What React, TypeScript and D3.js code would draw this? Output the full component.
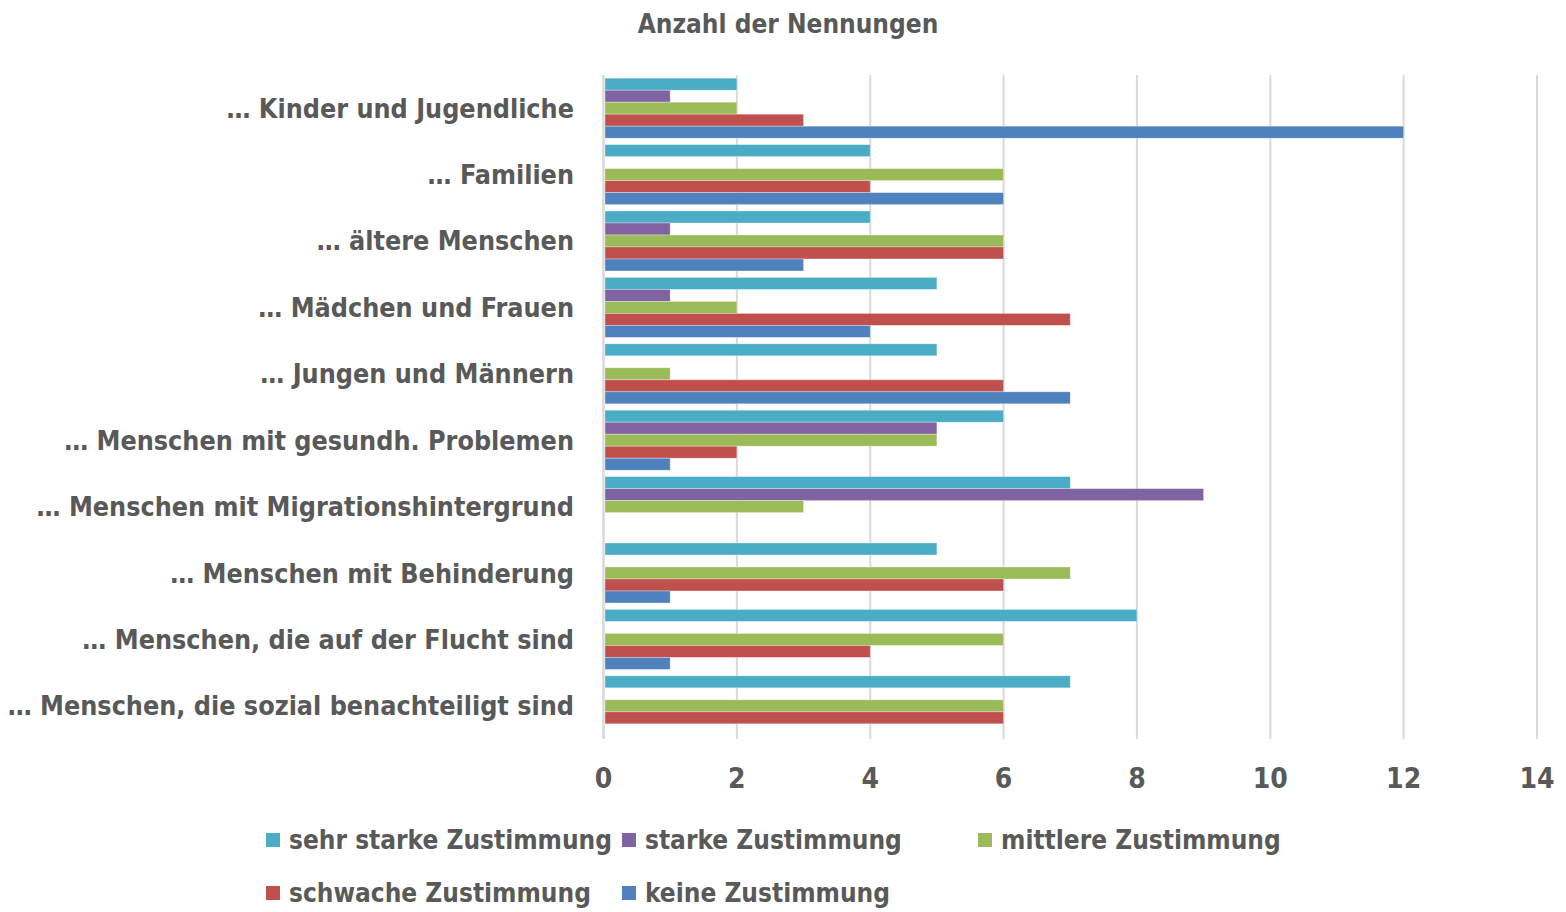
import React from "react";
import * as d3 from "d3";

const categories = [
  "… Kinder und Jugendliche",
  "… Familien",
  "… ältere Menschen",
  "… Mädchen und Frauen",
  "… Jungen und Männern",
  "… Menschen mit gesundh. Problemen",
  "… Menschen mit Migrationshintergrund",
  "… Menschen mit Behinderung",
  "… Menschen, die auf der Flucht sind",
  "… Menschen, die sozial benachteiligt sind",
];

const seriesNames = [
  "sehr starke Zustimmung",
  "starke Zustimmung",
  "mittlere Zustimmung",
  "schwache Zustimmung",
  "keine Zustimmung",
];
const seriesColors = ["#4BACC6", "#8064A2", "#9BBB59", "#C0504D", "#4F81BD"];

const sehrStark = [2, 4, 4, 5, 5, 6, 7, 5, 8, 7];
const stark = [1, 0, 1, 1, 0, 5, 9, 0, 0, 0];
const mittel = [2, 6, 6, 2, 1, 5, 3, 7, 6, 6];
const schwach = [3, 4, 6, 7, 6, 2, 0, 6, 4, 6];
const keine = [12, 6, 3, 4, 7, 1, 0, 1, 1, 0];
const seriesValues = [sehrStark, stark, mittel, schwach, keine];

const xTicks = [0, 2, 4, 6, 8, 10, 12, 14];

const FONT = "'Liberation Sans Narrow', 'DejaVu Sans Condensed', sans-serif";
const TEXT = "#595959";

export default function App() {
  const W = 1566, H = 912;
  const x = d3.scaleLinear().domain([0, 14]).range([603.5, 1537]);
  const y = d3.scaleBand().domain(categories).range([75, 739]).paddingInner(0.0964).paddingOuter(0.048);
  const inner = d3.scaleBand().domain(seriesNames).range([0, y.bandwidth()]);

  const legendRows = [
    [0, 1, 2],
    [3, 4],
  ];
  const legendX = [266, 622, 978];
  const legendY = [840, 893];

  return (
    <svg width={W} height={H} style={{ position: "absolute", left: 0, top: 0, background: "#fff" }}>
      <text x={788} y={24} textAnchor="middle" dominantBaseline="central" fontFamily={FONT} fontWeight="bold" fontSize={26} fill={TEXT}>
        Anzahl der Nennungen
      </text>
      {xTicks.map((t) => (
        <line key={t} x1={x(t)} x2={x(t)} y1={75} y2={739} stroke="#d9d9d9" strokeWidth={t === 0 ? 2.5 : 2} />
      ))}
      {categories.map((c, i) => (
        <g key={c}>
          {seriesValues.map((vals, s) =>
            vals[i] > 0 ? (
              <rect
                key={s}
                x={x(0) + 1.5}
                y={(y(c) as number) + (inner(seriesNames[s]) as number)}
                width={x(vals[i]) - x(0) - 1.5}
                height={inner.bandwidth()}
                fill={seriesColors[s]}
                stroke="#ffffff"
                strokeOpacity={0.4}
                strokeWidth={0.8}
              />
            ) : null
          )}
          <text
            x={574}
            y={(y(c) as number) + y.bandwidth() / 2}
            textAnchor="end"
            dominantBaseline="central"
            fontFamily={FONT}
            fontWeight="bold"
            fontSize={26.7}
            fill={TEXT}
          >
            {c}
          </text>
        </g>
      ))}
      {xTicks.map((t) => (
        <text key={t} x={x(t)} y={778} textAnchor="middle" dominantBaseline="central" fontFamily={FONT} fontWeight="bold" fontSize={28} fill={TEXT}>
          {t}
        </text>
      ))}
      {legendRows.map((row, r) =>
        row.map((s, k) => (
          <g key={s}>
            <rect x={legendX[k]} y={legendY[r] - 7} width={14} height={14} fill={seriesColors[s]} />
            <text x={legendX[k] + 23} y={legendY[r]} dominantBaseline="central" fontFamily={FONT} fontWeight="bold" fontSize={26} fill={TEXT}>
              {seriesNames[s]}
            </text>
          </g>
        ))
      )}
    </svg>
  );
}
